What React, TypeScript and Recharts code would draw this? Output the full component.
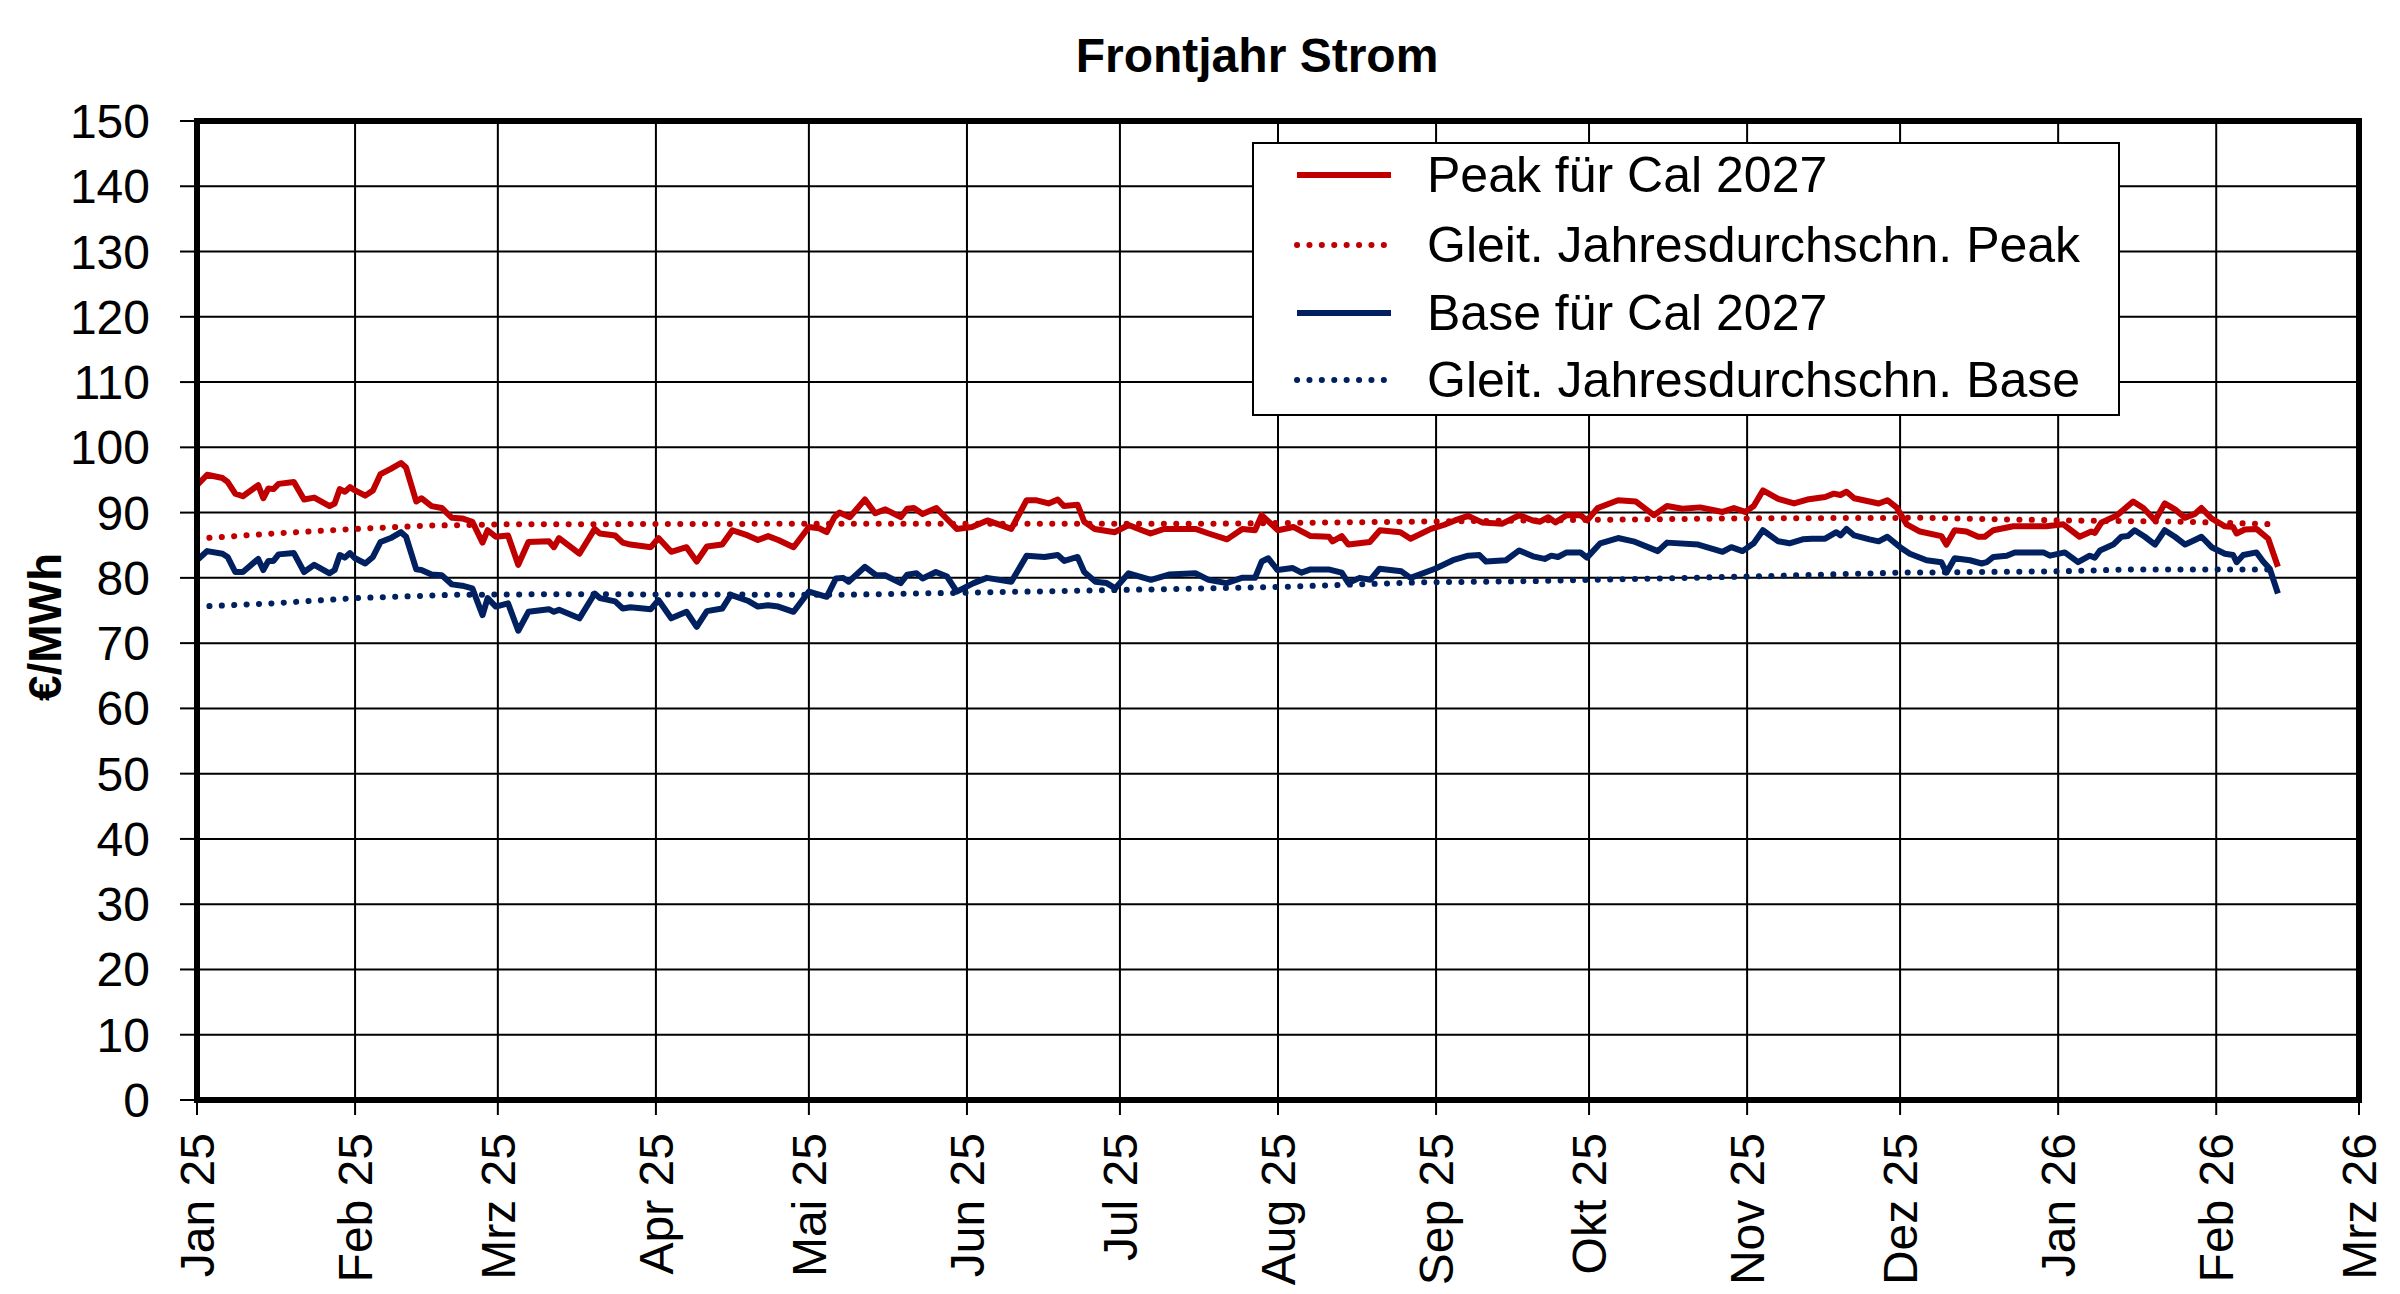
import React from 'react';
import { LineChart, Line, XAxis, YAxis, CartesianGrid, ReferenceArea } from 'recharts';

// x = days since 1 Jan 2025, y = €/MWh
const peak: Array<[number, number]> = [
  [0, 94.2], [2, 95.8], [5, 95.3], [6, 94.7], [7.5, 92.9], [9, 92.5], [12, 94.2], [13, 92.2], [14, 93.7], [15, 93.6],
  [16, 94.4], [19, 94.7], [21, 92.0], [23, 92.3], [26, 91.0], [27, 91.4], [28, 93.6], [29, 93.2], [30, 93.9], [31, 93.4],
  [33, 92.6], [34.5, 93.4], [36, 95.9], [38, 96.7], [40, 97.6], [41, 96.9], [43, 91.7], [44, 92.2], [46, 91.0], [48, 90.7],
  [50, 89.2], [52, 89.1], [54, 88.6], [56, 85.4], [57, 87.3], [58.6, 86.3], [61, 86.5], [63, 82.0], [65, 85.5], [69, 85.6],
  [70, 84.7], [71, 86.1], [75, 83.7], [78, 87.5], [79, 86.8], [82, 86.5], [83.5, 85.4], [85, 85.1], [89, 84.7], [90.5, 86.1],
  [93, 84.0], [96, 84.7], [98, 82.5], [100, 84.8], [103, 85.1], [105, 87.3], [108, 86.5], [110, 85.8], [112, 86.4], [114, 85.8],
  [117, 84.7], [120, 87.8], [122, 87.6], [123.5, 87.0], [125, 89.3], [126, 90.0], [128, 89.3], [131, 92.0], [133, 89.9], [135, 90.5],
  [138, 89.3], [139.3, 90.6], [140.6, 90.7], [142.3, 89.8], [145, 90.7], [147, 89.1], [149, 87.5], [152, 87.8], [155, 88.8], [159.7, 87.5],
  [162.7, 91.9], [164.5, 91.9], [167, 91.4], [168.8, 92.0], [170, 91.0], [172.7, 91.2], [174, 88.6], [176, 87.5], [180, 87.0], [182.7, 88.1],
  [185.3, 87.3], [187, 86.8], [189.7, 87.5], [195.8, 87.5], [198.4, 86.8], [202, 85.9], [205, 87.5], [207.5, 87.3], [208.8, 89.6], [212, 87.3],
  [215, 87.8], [218.4, 86.4], [222, 86.3], [222.7, 85.6], [224.5, 86.4], [225.8, 85.1], [230, 85.5], [232, 87.3], [236, 87.0], [238, 86.0],
  [242, 87.5], [244.5, 88.1], [246.7, 88.8], [249.3, 89.5], [252, 88.5], [256, 88.3], [259.3, 89.6], [262, 88.8], [263.4, 88.6], [265, 89.3],
  [266.4, 88.5], [268.6, 89.6], [271.3, 89.6], [272.6, 88.8], [274.7, 90.7], [278.7, 91.9], [282.2, 91.7], [285.7, 89.6], [288.3, 91.0], [291.3, 90.6],
  [294.8, 90.8], [299.2, 90.1], [301.4, 90.7], [303.6, 90.1], [305.3, 91.0], [307.1, 93.4], [310.1, 92.1], [313.2, 91.4], [315.8, 92.0], [319.3, 92.4],
  [321, 92.9], [322.3, 92.7], [323.5, 93.2], [325, 92.2], [328, 91.7], [329.8, 91.4], [331.5, 91.9], [333.3, 90.8], [335.3, 88.2], [337.9, 87.1],
  [342.1, 86.4], [343.1, 85.1], [344.7, 87.3], [347, 87.1], [349.3, 86.3], [350.6, 86.3], [352.3, 87.3], [356.2, 87.9], [362.7, 87.9], [366, 88.2],
  [369.2, 86.3], [371.5, 87.1], [372.2, 86.9], [373.5, 88.5], [376.4, 89.5], [379.7, 91.7], [381.7, 90.7], [384, 88.8], [385.9, 91.4], [387.9, 90.5],
  [389.9, 89.2], [391.8, 89.8], [393.1, 90.7], [395.1, 89.1], [397.7, 87.9], [399.3, 87.8], [400, 86.8], [401.6, 87.4], [403.9, 87.5], [406.2, 86.0],
  [408.1, 81.7],
];

const base: Array<[number, number]> = [
  [0, 82.7], [2, 84.1], [5, 83.7], [6, 83.2], [7.5, 80.9], [9, 80.9], [12, 82.9], [13, 81.2], [14, 82.6], [15, 82.6],
  [16, 83.6], [19, 83.8], [21, 80.9], [23, 82.0], [26, 80.7], [27, 81.2], [28, 83.5], [29, 83.1], [30, 83.8], [31, 83.0],
  [33, 82.2], [34.5, 83.2], [36, 85.5], [38, 86.1], [40, 87.0], [41, 86.3], [43, 81.3], [44, 81.2], [46, 80.5], [48, 80.4],
  [50, 79.0], [52, 78.8], [54, 78.4], [56, 74.3], [57, 76.9], [58.6, 75.6], [61, 76.1], [63, 71.9], [65, 74.8], [69, 75.2],
  [70, 74.8], [71, 75.1], [75, 73.8], [78, 77.6], [79, 76.9], [82, 76.4], [83.5, 75.3], [85, 75.5], [89, 75.2], [90.5, 76.6],
  [93, 73.8], [96, 74.8], [98, 72.5], [100, 74.9], [103, 75.3], [104.7, 77.4], [108, 76.5], [110, 75.6], [112, 75.8], [114, 75.6],
  [117, 74.8], [120, 77.9], [123.5, 77.1], [125.3, 79.9], [126.7, 80.0], [127.8, 79.4], [131, 81.7], [133.2, 80.4], [134.9, 80.4], [138, 79.2],
  [139.3, 80.5], [141.1, 80.7], [142.3, 79.9], [144.9, 80.9], [147.1, 80.2], [149, 77.9], [152.3, 79.2], [154.9, 80.0], [159.7, 79.4], [162.7, 83.4],
  [166.2, 83.2], [168.8, 83.5], [170.1, 82.6], [172.7, 83.2], [174, 80.9], [176.2, 79.4], [178.4, 79.2], [180.1, 78.4], [182.7, 80.7], [187.1, 79.7],
  [190.6, 80.5], [195.8, 80.7], [198.4, 79.7], [201.9, 79.2], [204.9, 80.0], [207.5, 80.0], [208.8, 82.5], [210.1, 83.0], [211.9, 81.2], [214.9, 81.5],
  [216.6, 80.8], [218.4, 81.3], [221.9, 81.3], [224.5, 80.8], [225.8, 79.2], [228, 80.0], [230.1, 79.7], [231.9, 81.4], [236.2, 81.0], [238, 80.0],
  [242.8, 81.4], [246.3, 82.7], [249.3, 83.4], [251.5, 83.5], [252.8, 82.5], [256.7, 82.7], [259.3, 84.2], [262, 83.3], [264.3, 82.9], [265.6, 83.4],
  [266.9, 83.2], [268.6, 83.9], [271.3, 83.9], [272.6, 83.1], [275.2, 85.3], [278.7, 86.1], [281.7, 85.6], [286.5, 84.1], [288.3, 85.4], [294.4, 85.1],
  [299.2, 84.0], [300.9, 84.7], [303.1, 84.1], [305.3, 85.3], [307.1, 87.3], [310.1, 85.6], [312.3, 85.3], [314.9, 85.9], [316.7, 86.0], [319.3, 86.0],
  [321.5, 87.0], [322.3, 86.5], [323.5, 87.5], [325, 86.5], [328, 85.9], [329.8, 85.6], [331.5, 86.3], [334, 84.7], [335.9, 83.7], [339.2, 82.7],
  [342.1, 82.4], [343.1, 80.8], [344.7, 83.0], [347.7, 82.7], [350, 82.2], [351, 82.4], [352.3, 83.2], [354.9, 83.4], [356.5, 83.9], [362.1, 83.9],
  [363.4, 83.4], [366.3, 83.9], [368.9, 82.4], [371.2, 83.4], [372.2, 83.1], [373.2, 84.2], [375.8, 85.1], [377.4, 86.3], [378.7, 86.4], [380, 87.3],
  [382, 86.3], [384, 85.1], [385.9, 87.3], [387.9, 86.3], [389.9, 85.1], [391.8, 85.8], [393.1, 86.3], [395.1, 84.7], [397.7, 83.7], [399.3, 83.5],
  [400, 82.4], [401.3, 83.5], [403.9, 83.9], [405.2, 82.5], [406.5, 81.4], [408.1, 77.6],
];

// rolling annual averages
const peakAvg: Array<[number, number]> = [
  [0, 86.0], [15, 86.8], [31, 87.5], [45, 88.0], [60, 88.2], [126, 88.3], [200, 88.3], [262, 88.8],
  [300, 89.1], [338, 89.2], [366, 88.8], [390, 88.6], [408, 88.2],
];

const baseAvg: Array<[number, number]> = [
  [0, 75.6], [15, 76.1], [31, 76.9], [50, 77.4], [70, 77.5], [126, 77.4], [178, 78.1], [212, 78.6],
  [239, 79.3], [262, 79.5], [304, 80.2], [334, 80.8], [365, 81.0], [380, 81.3], [408, 81.3],
];

const monthTicks = [0, 31, 59, 90, 120, 151, 181, 212, 243, 273, 304, 334, 365, 396, 424];
const monthLabels = ['Jan 25', 'Feb 25', 'Mrz 25', 'Apr 25', 'Mai 25', 'Jun 25', 'Jul 25', 'Aug 25',
  'Sep 25', 'Okt 25', 'Nov 25', 'Dez 25', 'Jan 26', 'Feb 26', 'Mrz 26'];
const yTicks = [0, 10, 20, 30, 40, 50, 60, 70, 80, 90, 100, 110, 120, 130, 140, 150];

const seriesNames = ['Peak für Cal 2027', 'Gleit. Jahresdurchschn. Peak', 'Base für Cal 2027', 'Gleit. Jahresdurchschn. Base'];

const RED = '#C00000';
const BLUE = '#002060';
const FONT = '"Liberation Sans", Arial, sans-serif';

const toRows = (pts: Array<[number, number]>) => pts.map(([day, v]) => ({ day, v }));

const YTick = (props: any) => {
  const { x, y, payload } = props;
  return (
    <text x={x} y={y} dy={17} textAnchor="end" fontSize={48} fontFamily={FONT} fill="#000">
      {payload.value}
    </text>
  );
};

const XTick = (props: any) => {
  const { x, y, payload } = props;
  const i = monthTicks.indexOf(payload.value);
  return (
    <g transform={`translate(${x + 17},${y})`}>
      <text transform="rotate(-90)" textAnchor="end" fontSize={48} fontFamily={FONT} fill="#000">
        {monthLabels[i]}
      </text>
    </g>
  );
};

const legendRows = [
  { name: seriesNames[0], color: RED, dotted: false, cy: 175 },
  { name: seriesNames[1], color: RED, dotted: true, cy: 245 },
  { name: seriesNames[2], color: BLUE, dotted: false, cy: 313 },
  { name: seriesNames[3], color: BLUE, dotted: true, cy: 380 },
];

export default function App() {
  return (
    <div style={{ position: 'absolute', left: 0, top: 0, width: 2400, height: 1294, background: '#fff', fontFamily: FONT }}>
      <LineChart width={2400} height={1294} margin={{ top: 121, right: 41, bottom: 0, left: 0 }}>
        <CartesianGrid stroke="#000" strokeWidth={2} />
        <XAxis
          type="number"
          dataKey="day"
          domain={[0, 424]}
          ticks={monthTicks}
          interval={0}
          height={194}
          tickSize={15}
          tickMargin={18}
          tickLine={{ stroke: '#000', strokeWidth: 2 }}
          axisLine={{ stroke: '#000', strokeWidth: 6 }}
          tick={<XTick />}
          allowDataOverflow
        />
        <YAxis
          type="number"
          domain={[0, 150]}
          ticks={yTicks}
          interval={0}
          width={197}
          tickSize={17}
          tickMargin={30}
          tickLine={{ stroke: '#000', strokeWidth: 2 }}
          axisLine={{ stroke: '#000', strokeWidth: 6 }}
          tick={<YTick />}
          allowDataOverflow
        />
        <ReferenceArea x1={0} x2={424} y1={0} y2={150} fill="none" stroke="#000" strokeWidth={6} />
        <Line data={toRows(peakAvg)} dataKey="v" name={seriesNames[1]} type="linear" stroke={RED} strokeWidth={6}
          strokeDasharray="0.1 12.3" strokeLinecap="round" dot={false} isAnimationActive={false} />
        <Line data={toRows(baseAvg)} dataKey="v" name={seriesNames[3]} type="linear" stroke={BLUE} strokeWidth={6}
          strokeDasharray="0.1 12.3" strokeLinecap="round" dot={false} isAnimationActive={false} />
        <Line data={toRows(peak)} dataKey="v" name={seriesNames[0]} type="linear" stroke={RED} strokeWidth={6}
          strokeLinejoin="round" dot={false} isAnimationActive={false} />
        <Line data={toRows(base)} dataKey="v" name={seriesNames[2]} type="linear" stroke={BLUE} strokeWidth={6}
          strokeLinejoin="round" dot={false} isAnimationActive={false} />
      </LineChart>
      <svg width={2400} height={1294} style={{ position: 'absolute', left: 0, top: 0, pointerEvents: 'none' }}>
        <text x={1257} y={72} textAnchor="middle" fontSize={48} fontWeight="bold" fontFamily={FONT} fill="#000">
          Frontjahr Strom
        </text>
        <g transform="translate(61,627)">
          <text transform="rotate(-90)" textAnchor="middle" fontSize={46} fontWeight="bold" fontFamily={FONT} fill="#000">
            €/MWh
          </text>
        </g>
        <rect x={1253} y={143} width={866} height={272} fill="#fff" stroke="#000" strokeWidth={2} />
        {legendRows.map((r) => (
          <g key={r.name}>
            <line x1={1297} x2={1391} y1={r.cy} y2={r.cy} stroke={r.color} strokeWidth={r.dotted ? 6 : 6}
              strokeDasharray={r.dotted ? '0.1 12.3' : undefined} strokeLinecap={r.dotted ? 'round' : 'butt'} />
            <text x={1427} y={r.cy + 17} fontSize={50} fontFamily={FONT} fill="#000">{r.name}</text>
          </g>
        ))}
      </svg>
    </div>
  );
}
